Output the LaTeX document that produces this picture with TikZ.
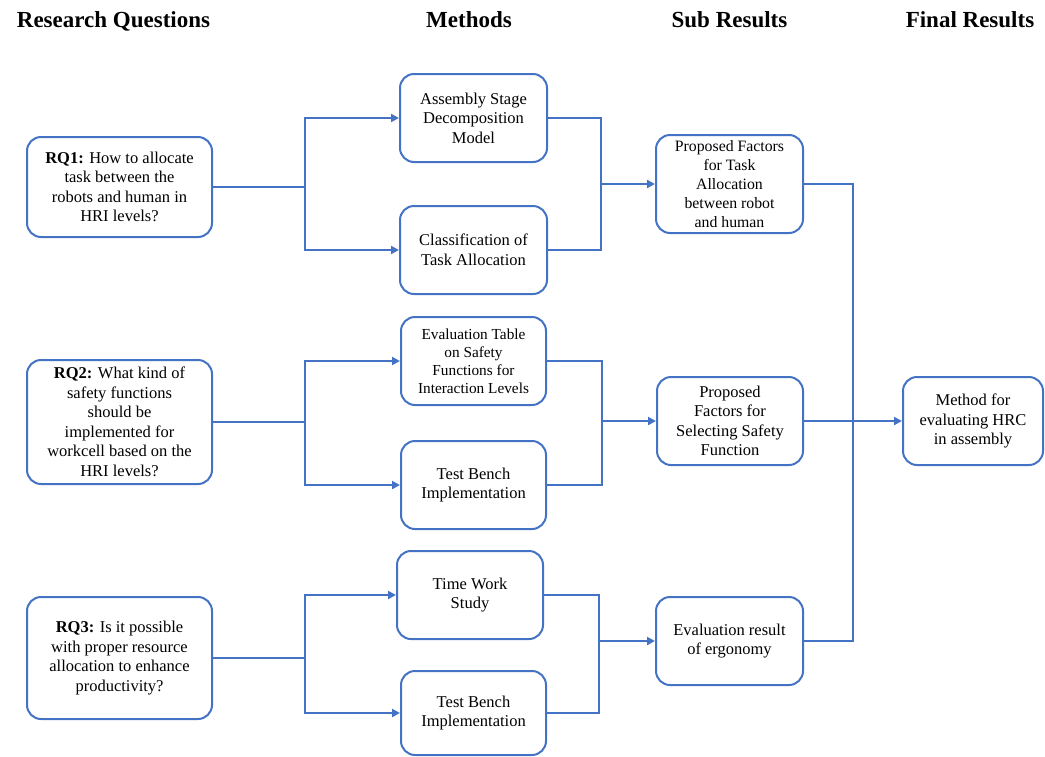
\documentclass[tikz,border=0pt]{standalone}
\usepackage{fontspec}
\setmainfont{Liberation Serif}
\usetikzlibrary{arrows.meta}
\definecolor{lineblue}{RGB}{68,114,196}
\tikzset{
  box/.style={draw=lineblue, line width=2pt, rounded corners=14pt, fill=white,
    align=center, inner sep=2pt, font=\fontsize{16.5}{19.5}\selectfont},
  smallbox/.style={box, font=\fontsize{15.3}{18}\selectfont},
  midbox/.style={box, font=\fontsize{15.8}{19}\selectfont},
  conn/.style={draw=lineblue, line width=2pt},
  arr/.style={conn, -{Triangle[length=8pt,width=8pt]}},
  heading/.style={font=\fontsize{23}{26}\selectfont\bfseries, anchor=base}
}
\begin{document}
\begin{tikzpicture}[x=1pt,y=-1pt]
\useasboundingbox (0,0) rectangle (1045,756);

% headings
\node[heading] (h1) at (113.5,27) {Research Questions};
\node[heading] (h2) at (469,27) {Methods};
\node[heading] (h3) at (729.5,27) {Sub Results};
\node[heading] (h4) at (970,27) {Final Results};

% research questions
\node[box, minimum width=185pt, minimum height=100pt] (rq1) at (119.5,187)
  {\textbf{RQ1:} How to allocate\\task between the\\robots and human in\\HRI levels?};
\node[box, minimum width=185pt, minimum height=124pt] (rq2) at (119.5,422)
  {\textbf{RQ2:} What kind of\\safety functions\\should be\\implemented for\\workcell based on the\\HRI levels?};
\node[box, minimum width=185pt, minimum height=122pt] (rq3) at (119.5,658)
  {\textbf{RQ3:} Is it possible\\with proper resource\\allocation to enhance\\productivity?};

% methods
\node[box, minimum width=147pt, minimum height=88pt] (m1) at (473.5,118)
  {Assembly Stage\\Decomposition\\Model};
\node[box, minimum width=147pt, minimum height=88pt] (m2) at (473.5,250)
  {Classification of\\Task Allocation};
\node[smallbox, minimum width=145pt, minimum height=88pt] (m3) at (473.5,361)
  {Evaluation Table\\on Safety\\Functions for\\Interaction Levels};
\node[box, minimum width=145pt, minimum height=88pt] (m4) at (473.5,485)
  {Test Bench\\Implementation};
\node[box, minimum width=146pt, minimum height=88pt] (m5) at (470,595)
  {Time Work\\Study};
\node[box, minimum width=145pt, minimum height=84pt] (m6) at (473.5,713)
  {Test Bench\\Implementation};

% sub results
\node[midbox, minimum width=147pt, minimum height=98pt] (s1) at (729.5,184)
  {Proposed Factors\\for Task\\Allocation\\between robot\\and human};
\node[box, minimum width=146pt, minimum height=88pt] (s2) at (730,421)
  {Proposed\\Factors for\\Selecting Safety\\Function};
\node[box, minimum width=147pt, minimum height=88pt] (s3) at (729.5,641)
  {Evaluation result\\of ergonomy};

% final
\node[box, minimum width=140pt, minimum height=88pt] (f) at (973,421)
  {Method for\\evaluating HRC\\in assembly};

% junction coordinates
\coordinate (j1) at (305,187);
\coordinate (j2) at (305,422);
\coordinate (j3) at (305,658);
\coordinate (k1) at (601,184);
\coordinate (k2) at (602,421);
\coordinate (k3) at (599,641);
\coordinate (v1) at (853,421);

% RQ -> methods
\draw[conn] (rq1.east) -- (j1);
\draw[arr] (j1) |- (m1.west);
\draw[arr] (j1) |- (m2.west);
\draw[conn] (rq2.east) -- (j2);
\draw[arr] (j2) |- (m3.west);
\draw[arr] (j2) |- (m4.west);
\draw[conn] (rq3.east) -- (j3);
\draw[arr] (j3) |- (m5.west);
\draw[arr] (j3) |- (m6.west);

% methods -> sub results
\draw[conn] (m1.east) -| (k1);
\draw[conn] (m2.east) -| (k1);
\draw[arr] (k1) -- (s1.west);
\draw[conn] (m3.east) -| (k2);
\draw[conn] (m4.east) -| (k2);
\draw[arr] (k2) -- (s2.west);
\draw[conn] (m5.east) -| (k3);
\draw[conn] (m6.east) -| (k3);
\draw[arr] (k3) -- (s3.west);

% sub results -> final
\draw[conn] (s1.east) -| (v1);
\draw[conn] (s3.east) -| (v1);
\draw[arr] (s2.east) -- (f.west);
\end{tikzpicture}
\end{document}
